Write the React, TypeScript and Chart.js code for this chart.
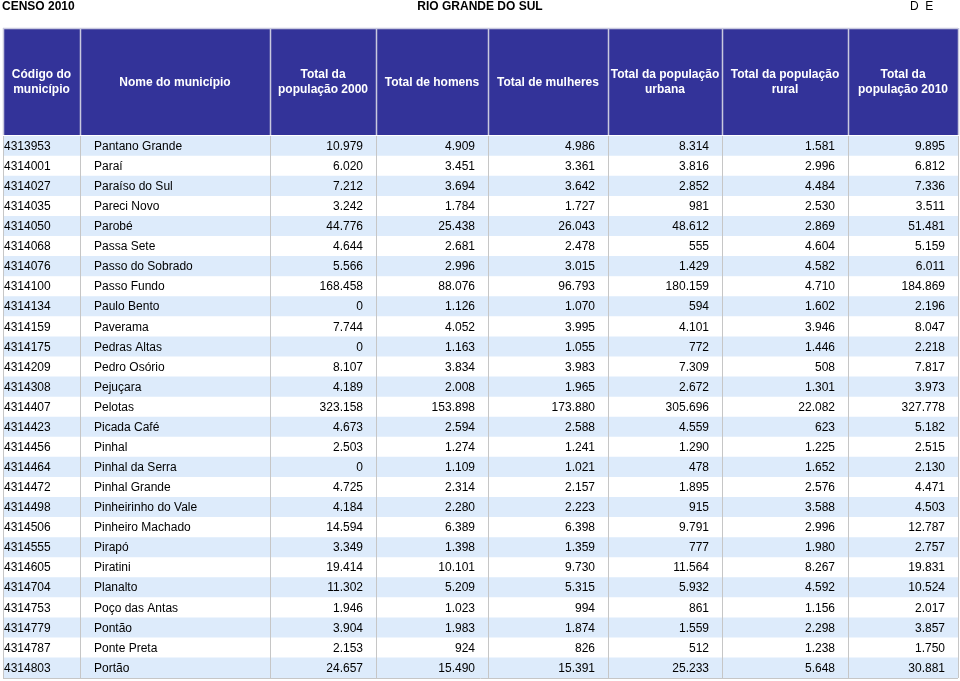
import React, { useEffect, useRef } from "react";
import { Chart, registerables } from "chart.js";

Chart.register(...registerables);

// ---------- data ----------
const TITLE_LEFT = "CENSO 2010";
const TITLE_CENTER = "RIO GRANDE DO SUL";
const TITLE_RIGHT = "D  E";

const HEADERS: string[][] = [
  ["Código do", "município"],
  ["Nome do município"],
  ["Total da", "população 2000"],
  ["Total de homens"],
  ["Total de mulheres"],
  ["Total da população", "urbana"],
  ["Total da população", "rural"],
  ["Total da", "população 2010"],
];

const CODES = [
  "4313953", "4314001", "4314027", "4314035", "4314050", "4314068", "4314076",
  "4314100", "4314134", "4314159", "4314175", "4314209", "4314308", "4314407",
  "4314423", "4314456", "4314464", "4314472", "4314498", "4314506", "4314555",
  "4314605", "4314704", "4314753", "4314779", "4314787", "4314803",
];

const NAMES = [
  "Pantano Grande", "Paraí", "Paraíso do Sul", "Pareci Novo", "Parobé",
  "Passa Sete", "Passo do Sobrado", "Passo Fundo", "Paulo Bento", "Paverama",
  "Pedras Altas", "Pedro Osório", "Pejuçara", "Pelotas", "Picada Café",
  "Pinhal", "Pinhal da Serra", "Pinhal Grande", "Pinheirinho do Vale",
  "Pinheiro Machado", "Pirapó", "Piratini", "Planalto", "Poço das Antas",
  "Pontão", "Ponte Preta", "Portão",
];

const POP_2000 = [
  10979, 6020, 7212, 3242, 44776, 4644, 5566, 168458, 0, 7744, 0, 8107, 4189,
  323158, 4673, 2503, 0, 4725, 4184, 14594, 3349, 19414, 11302, 1946, 3904,
  2153, 24657,
];
const MEN = [
  4909, 3451, 3694, 1784, 25438, 2681, 2996, 88076, 1126, 4052, 1163, 3834,
  2008, 153898, 2594, 1274, 1109, 2314, 2280, 6389, 1398, 10101, 5209, 1023,
  1983, 924, 15490,
];
const WOMEN = [
  4986, 3361, 3642, 1727, 26043, 2478, 3015, 96793, 1070, 3995, 1055, 3983,
  1965, 173880, 2588, 1241, 1021, 2157, 2223, 6398, 1359, 9730, 5315, 994,
  1874, 826, 15391,
];
const URBAN = [
  8314, 3816, 2852, 981, 48612, 555, 1429, 180159, 594, 4101, 772, 7309, 2672,
  305696, 4559, 1290, 478, 1895, 915, 9791, 777, 11564, 5932, 861, 1559, 512,
  25233,
];
const RURAL = [
  1581, 2996, 4484, 2530, 2869, 4604, 4582, 4710, 1602, 3946, 1446, 508, 1301,
  22082, 623, 1225, 1652, 2576, 3588, 2996, 1980, 8267, 4592, 1156, 2298, 1238,
  5648,
];
const POP_2010 = [
  9895, 6812, 7336, 3511, 51481, 5159, 6011, 184869, 2196, 8047, 2218, 7817,
  3973, 327778, 5182, 2515, 2130, 4471, 4503, 12787, 2757, 19831, 10524, 2017,
  3857, 1750, 30881,
];

// ---------- layout / style ----------
const W = 960;
const H = 681;
const COL_EDGES = [0, 77, 267, 373, 485, 605, 719, 845, 955]; // x-scale units
const X_MAX = 955;
const HEADER_TOP = 28;
const HEADER_BOTTOM = 135;
const TITLE_Y = 7;
const FONT = "'Liberation Sans', Arial, Helvetica, sans-serif";
const HEADER_BG = "#333399";
const STRIPE = "#ddebfb";
const WHITE = "#ffffff";
const GRID = "#c6c6c6";
const HEADER_SEP = "#c9c9df";
const TEXT = "#000000";

const fmt = (n: number) =>
  String(n).replace(/\B(?=(\d{3})+(?!\d))/g, ".");

const NUM_COLS = [POP_2000, MEN, WOMEN, URBAN, RURAL, POP_2010];

const tablePlugin = {
  id: "tablePlugin",
  afterDatasetsDraw(chart: any) {
    const { ctx, chartArea, scales } = chart;
    const x = scales.x;
    const y = scales.y;
    const X = (v: number) => x.getPixelForValue(v);
    ctx.save();

    // titles
    ctx.fillStyle = TEXT;
    ctx.textBaseline = "middle";
    ctx.font = `bold 12px ${FONT}`;
    ctx.textAlign = "left";
    ctx.fillText(TITLE_LEFT, 2, TITLE_Y);
    ctx.textAlign = "center";
    ctx.fillText(TITLE_CENTER, 480, TITLE_Y);
    ctx.font = `12px ${FONT}`;
    ctx.textAlign = "left";
    ctx.fillText(TITLE_RIGHT, 910, TITLE_Y);

    // header band
    const x0 = X(0);
    const x1 = X(X_MAX);
    ctx.fillStyle = HEADER_BG;
    ctx.fillRect(x0, HEADER_TOP, x1 - x0, HEADER_BOTTOM - HEADER_TOP);
    ctx.strokeStyle = HEADER_SEP;
    ctx.lineWidth = 1.5;
    ctx.beginPath();
    ctx.moveTo(x0, HEADER_TOP + 0.5);
    ctx.lineTo(x1, HEADER_TOP + 0.5);
    for (let c = 0; c < COL_EDGES.length; c++) {
      const px = Math.round(X(COL_EDGES[c])) + 0.5;
      ctx.moveTo(px, HEADER_TOP);
      ctx.lineTo(px, HEADER_BOTTOM);
    }
    ctx.stroke();

    ctx.fillStyle = WHITE;
    ctx.font = `bold 12px ${FONT}`;
    ctx.textAlign = "center";
    const hMid = (HEADER_TOP + HEADER_BOTTOM) / 2 + 1;
    HEADERS.forEach((lines, c) => {
      const cx = (X(COL_EDGES[c]) + X(COL_EDGES[c + 1])) / 2;
      const lh = 15;
      lines.forEach((ln, k) => {
        const ly = hMid + (k - (lines.length - 1) / 2) * lh;
        ctx.fillText(ln, cx, ly);
      });
    });

    // data grid lines
    ctx.strokeStyle = GRID;
    ctx.lineWidth = 1;
    ctx.beginPath();
    for (let c = 0; c < COL_EDGES.length; c++) {
      const px = Math.round(X(COL_EDGES[c])) + 0.5;
      ctx.moveTo(px, chartArea.top);
      ctx.lineTo(px, chartArea.bottom);
    }
    ctx.moveTo(x0, Math.round(chartArea.bottom) + 0.5);
    ctx.lineTo(x1, Math.round(chartArea.bottom) + 0.5);
    ctx.stroke();

    // cell text
    ctx.fillStyle = TEXT;
    ctx.font = `12px ${FONT}`;
    CODES.forEach((code, i) => {
      const py = y.getPixelForValue(i) + 0.5;
      ctx.textAlign = "left";
      ctx.fillText(code, X(COL_EDGES[0]) + 1, py);
      ctx.fillText(NAMES[i], X(COL_EDGES[1]) + 14, py);
      ctx.textAlign = "right";
      NUM_COLS.forEach((arr, k) => {
        ctx.fillText(fmt(arr[i]), X(COL_EDGES[k + 3]) - 13, py);
      });
    });

    ctx.restore();
  },
};

export default function App() {
  const ref = useRef<HTMLCanvasElement | null>(null);

  useEffect(() => {
    if (!ref.current) return;
    const chart = new Chart(ref.current, {
      type: "bar",
      data: {
        labels: CODES,
        datasets: [
          {
            data: CODES.map(() => [0, X_MAX]) as any,
            backgroundColor: CODES.map((_, i) => (i % 2 === 0 ? STRIPE : WHITE)),
            borderWidth: 0,
            barPercentage: 1,
            categoryPercentage: 1,
          },
        ],
      },
      options: {
        indexAxis: "y",
        responsive: false,
        maintainAspectRatio: false,
        animation: false,
        devicePixelRatio: 1,
        layout: { padding: { top: HEADER_BOTTOM + 1, bottom: 3, left: 3, right: 2 } },
        scales: {
          x: { type: "linear", min: 0, max: X_MAX, display: false },
          y: { type: "category", display: false, offset: true },
        },
        plugins: {
          legend: { display: false },
          tooltip: { enabled: false },
          title: { display: false },
        },
      },
      plugins: [tablePlugin],
    });
    return () => chart.destroy();
  }, []);

  return (
    <div style={{ position: "fixed", left: 0, top: 0, width: W, height: H, background: "#fff" }}>
      <canvas ref={ref} width={W} height={H} style={{ display: "block", width: W, height: H }} />
    </div>
  );
}
